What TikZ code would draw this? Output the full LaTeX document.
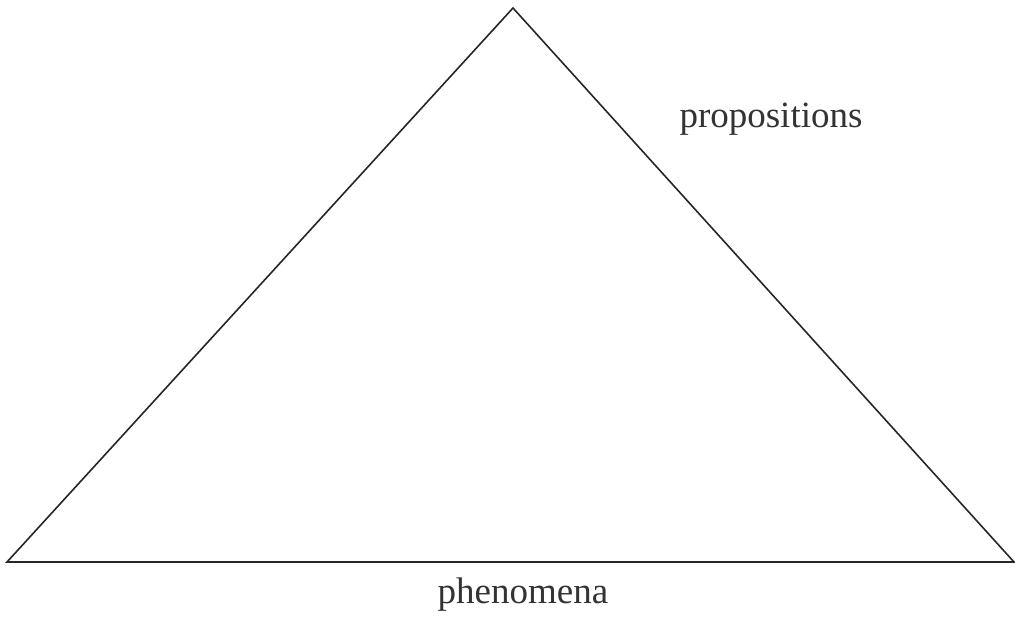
\documentclass[tikz,border=0pt]{standalone}
\usepackage{fontspec}
\setmainfont{Liberation Serif}
\begin{document}
\begin{tikzpicture}[x=1pt,y=-1pt,
  edge/.style={line width=1.6pt,draw=black!85,line join=miter},
  lbl/.style={anchor=base,inner sep=0pt,text=black!80,font=\fontsize{37}{44}\selectfont}]
\useasboundingbox (0,0) rectangle (1015,618);
\coordinate (top) at (513,8);
\coordinate (bl) at (7,562);
\coordinate (br) at (1014,562);
\draw[edge] (top) -- (bl) -- (br) -- cycle;
\node[lbl] (prop) at (771,128) {propositions};
\node[lbl] (phen) at (523,603) {phenomena};
\end{tikzpicture}
\end{document}
